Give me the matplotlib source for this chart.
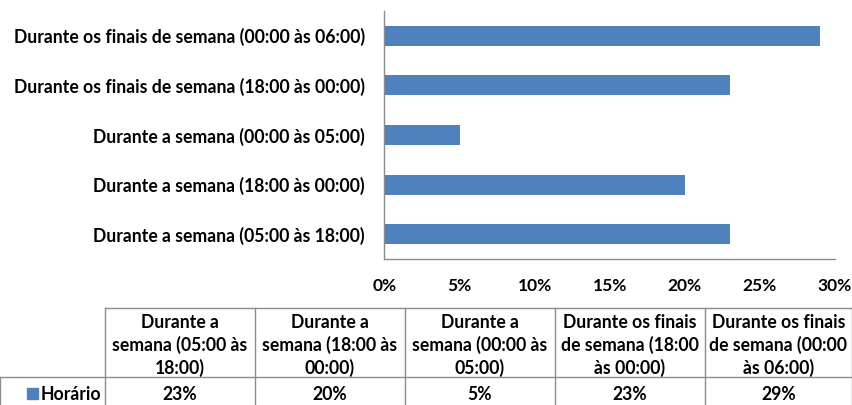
import matplotlib.pyplot as plt
from matplotlib.patches import Rectangle

# ============================================
# Data
# ============================================

categories = [
    "Durante a semana (05:00 às 18:00)",
    "Durante a semana (18:00 às 00:00)",
    "Durante a semana (00:00 às 05:00)",
    "Durante os finais de semana (18:00 às 00:00)",
    "Durante os finais de semana (00:00 às 06:00)",
]
table_headers = [
    "Durante a\nsemana (05:00 às\n18:00)",
    "Durante a\nsemana (18:00 às\n00:00)",
    "Durante a\nsemana (00:00 às\n05:00)",
    "Durante os finais\nde semana (18:00\nàs 00:00)",
    "Durante os finais\nde semana (00:00\nàs 06:00)",
]
series_name = "Horário"
values = [23, 20, 5, 23, 29]
x_ticks = [0, 5, 10, 15, 20, 25, 30]

BAR_COLOR = "#4F81BD"
GRID_COLOR = "#8C8C8C"
FONT = ["Lato", "DejaVu Sans"]

W, H = 853, 405
plt.rcParams["font.family"] = FONT
plt.rcParams["font.weight"] = "bold"

fig = plt.figure(figsize=(W / 100, H / 100), dpi=100)

# ============================================
# Bar chart
# ============================================

left, right, top, bottom = 384.5, 835, 11, 259
ax = fig.add_axes([left / W, 1 - bottom / H, (right - left) / W, (bottom - top) / H])
ypos = range(len(categories))
ax.barh(ypos, values, height=0.4, color=BAR_COLOR)
ax.set_xlim(0, 30)
ax.set_ylim(-0.5, len(categories) - 0.5)
ax.set_yticks(list(ypos))
ax.set_yticklabels(categories, fontsize=12.7, fontweight="bold")
ax.set_xticks(x_ticks)
ax.set_xticklabels([f"{t}%" for t in x_ticks], fontsize=12.5, fontweight="bold")
ax.tick_params(axis="both", length=0)
ax.tick_params(axis="y", pad=14)
ax.tick_params(axis="x", pad=14)
for side in ("top", "right"):
    ax.spines[side].set_visible(False)
for side in ("left", "bottom"):
    ax.spines[side].set_color(GRID_COLOR)
    ax.spines[side].set_linewidth(1)

# ============================================
# Data table below the chart (pixel coordinates)
# ============================================

tab = fig.add_axes([0, 0, 1, 1])
tab.set_xlim(0, W)
tab.set_ylim(H, 0)
tab.axis("off")

col_edges = [105, 255, 405, 555, 705, 852]
head_top, head_bot, row_bot = 308, 377, 406

line_kw = dict(color=GRID_COLOR, linewidth=1)
tab.plot([col_edges[0], col_edges[-1]], [head_top, head_top], **line_kw)
tab.plot([0, col_edges[-1]], [head_bot, head_bot], **line_kw)
tab.plot([0, 0], [head_bot, row_bot], **line_kw)
for x in col_edges:
    tab.plot([x, x], [head_top, row_bot], **line_kw)

for i, (head, val) in enumerate(zip(table_headers, values)):
    cx = (col_edges[i] + col_edges[i + 1]) / 2
    tab.text(cx, (head_top + head_bot) / 2 + 3, head, ha="center", va="center",
             fontsize=12.7, fontweight="bold", linespacing=1.33)
    tab.text(cx, 394, f"{val}%", ha="center", va="center",
             fontsize=12.7, fontweight="bold")

tab.add_patch(Rectangle((27, 388), 11, 11, color=BAR_COLOR))
tab.text(41, 394, series_name, ha="left", va="center", fontsize=12.7, fontweight="bold")

fig.savefig("out.png", dpi=100)
